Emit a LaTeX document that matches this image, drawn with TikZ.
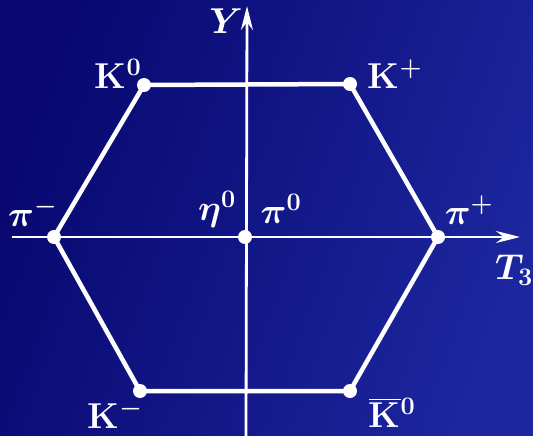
\RequirePackage{fix-cm}
\documentclass[tikz,border=0pt]{standalone}
\usepackage{amsmath}
\usetikzlibrary{arrows.meta,positioning}
\definecolor{bgdark}{RGB}{8,8,112}
\definecolor{bglight}{RGB}{28,38,158}
\tikzset{
    state/.style={circle, fill=white, inner sep=0pt, minimum size=14pt},
    edge/.style={draw=white, line width=4.5pt, line join=round},
    axis/.style={draw=white, line width=2.8pt, -{Stealth[length=24pt,width=12pt]}},
    tag/.style={text=white, inner sep=0pt, font=\fontsize{36}{40}\selectfont\bfseries\boldmath}
}

\begin{document}
\begin{tikzpicture}[x=1pt, y=-1pt]
    % background
    \shade[left color=bgdark, right color=bglight, shading angle=70] (0,0) rectangle (533,436);
    \useasboundingbox (0,0) rectangle (533,436);

    % Nodes
    \node[state] (c) at (245,237) {};
    \node[state] (pim) at (54,237) {};
    \node[state] (pip) at (438,237) {};
    \node[state] (kz) at (144,85) {};
    \node[state] (kp) at (350,84) {};
    \node[state] (km) at (140,391) {};
    \node[state] (kzb) at (350,391) {};

    % axes
    \coordinate (xs) at (12,237);
    \coordinate (xe) at (520,237);
    \coordinate (ys) at (246,436);
    \coordinate (ye) at (247,6);
    \draw[axis] (xs) -- (xe);
    \draw[axis] (ys) -- (ye);

    % edges
    \draw[edge] (kz.center) -- (kp.center) -- (pip.center) -- (kzb.center)
        -- (km.center) -- (pim.center) -- cycle;

    % labels
    \node[tag] (ly) at (226,21) {$Y$};
    \node[tag] (lt) at (514,270) {$T_3$};
    \node[tag] (lkz) at (118,74) {K$^0$};
    \node[tag] (lkp) at (395,74) {K$^+$};
    \node[tag, anchor=west] (lpim) at (8,212) {$\pi^-$};
    \node[tag] (lc1) at (217,209) {$\eta^0$};
    \node[tag] (lc2) at (281,209) {$\pi^0$};
    \node[tag] (lpip) at (469,210) {$\pi^+$};
    \node[tag] (lkm) at (115,414) {K$^-$};
    \node[tag] (lkzb) at (392,413) {$\overline{\text{K}}{}^0$};
\end{tikzpicture}
\end{document}
